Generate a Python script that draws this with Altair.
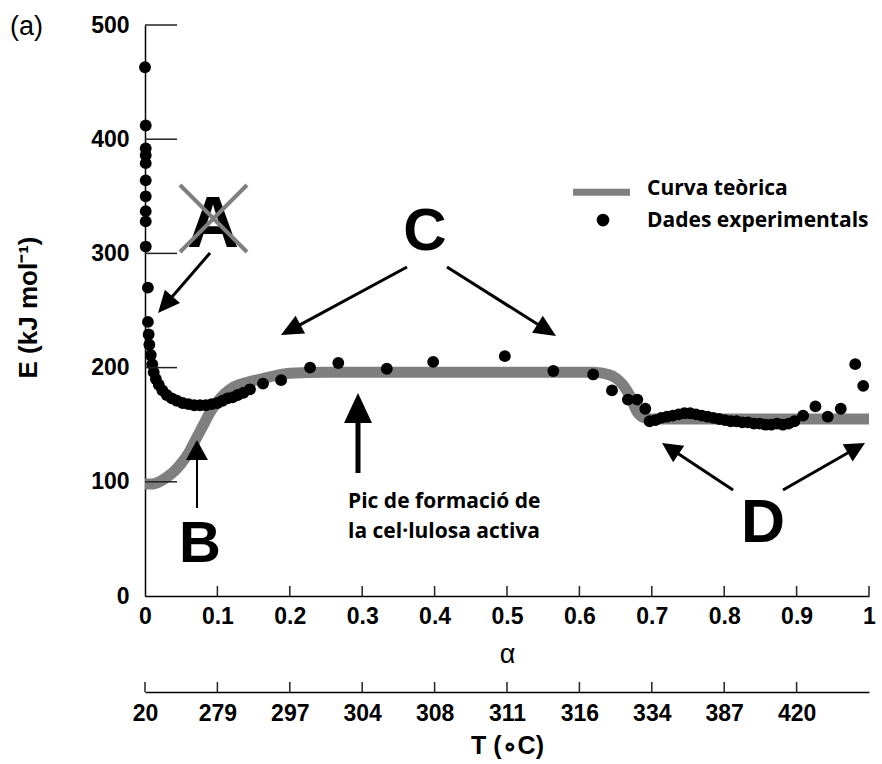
import json
import math

import altair as alt
import pandas as pd

# ---------------------------------------------------------------------------
# Data
# ---------------------------------------------------------------------------
# Theoretical activation-energy curve E(alpha)
CURVE_ALPHA = [0.00, 0.01, 0.02, 0.03, 0.04, 0.05, 0.06, 0.07, 0.08, 0.09,
               0.10, 0.11, 0.12, 0.13, 0.14, 0.16, 0.18, 0.20, 0.25, 0.30,
               0.40, 0.50, 0.60, 0.62, 0.64, 0.65, 0.66, 0.67, 0.68, 0.69,
               0.70, 0.72, 0.80, 0.90, 1.00]
CURVE_E = [98, 98, 100, 104, 109, 116, 125, 137, 149, 161,
           170, 177, 182, 185, 187, 190, 193, 195, 196, 196,
           196, 196, 196, 196, 194, 191, 185, 175, 161, 156,
           155, 155, 155, 155, 155]

# Experimental points
EXP_ALPHA = [0.000, 0.001, 0.001, 0.001, 0.001, 0.001, 0.001, 0.001, 0.001, 0.001,
             0.004, 0.004, 0.005, 0.006, 0.008, 0.010, 0.012, 0.015, 0.019, 0.024,
             0.030, 0.037, 0.044, 0.052, 0.060, 0.068, 0.076, 0.084, 0.092, 0.100,
             0.107, 0.114, 0.121, 0.128, 0.136, 0.145, 0.163, 0.188, 0.228, 0.267,
             0.334, 0.398, 0.497, 0.564, 0.619, 0.645, 0.667, 0.680, 0.691, 0.697,
             0.705, 0.713, 0.721, 0.729, 0.737, 0.745, 0.753, 0.761, 0.769, 0.777,
             0.785, 0.793, 0.801, 0.809, 0.817, 0.825, 0.833, 0.841, 0.849, 0.857,
             0.865, 0.873, 0.881, 0.889, 0.897, 0.909, 0.926, 0.943, 0.961, 0.981,
             0.992]
EXP_E = [463, 412, 392, 386, 379, 364, 350, 337, 328, 306,
         270, 240, 229, 220, 211, 203, 196, 190, 185, 180,
         176, 173, 171, 169, 168, 167, 167, 167, 168, 169,
         171, 173, 174, 176, 178, 181, 186, 189, 200, 204,
         199, 205, 210, 197, 194, 180, 172, 172, 164, 153,
         154, 156, 157, 158, 159, 160, 160, 159, 158, 157,
         156, 155, 154, 153, 153, 152, 152, 151, 151, 150,
         150, 151, 150, 151, 153, 158, 166, 157, 164, 203,
         184]

# Axis ticks and labels
Y_VALUES = [0, 100, 200, 300, 400, 500]
Y_INNER_TICKS = [100, 200, 300, 400, 500]
ALPHA_VALUES = [0, 0.1, 0.2, 0.3, 0.4, 0.5, 0.6, 0.7, 0.8, 0.9, 1]
ALPHA_INNER_TICKS = [0.1, 0.2, 0.3, 0.4, 0.5, 0.6, 0.7, 0.8, 0.9, 1]
T_POSITIONS = [0, 0.1, 0.2, 0.3, 0.4, 0.5, 0.6, 0.7, 0.8, 0.9]
T_LABELS = ["20", "279", "297", "304", "308", "311", "316", "334", "387", "420"]

# Annotation letters (alpha, E at baseline, font size)
LETTERS = ["A", "B", "C", "D"]
LETTER_ALPHA = [0.094, 0.076, 0.3867, 0.8536]
LETTER_E = [305.6, 29.8, 303.0, 47.3]
LETTER_SIZE = [72, 58, 60, 61]

# Arrows: tail (alpha, E), tip (alpha, E), shaft width, head length, head width
ARROWS = [
    (0.0898, 300.4, 0.0180, 247.8, 3.0, 22, 20),   # A
    (0.3619, 288.1, 0.1878, 228.5, 3.0, 22, 20),   # C left
    (0.4171, 288.1, 0.5677, 227.7, 3.0, 22, 20),   # C right
    (0.2942, 107.7, 0.2942, 177.8, 5.0, 30, 28),   # peak
    (0.0718, 77.1, 0.0718, 136.6, 2.0, 20, 22),    # B
    (0.8122, 92.8, 0.7141, 134.0, 3.0, 20, 20),    # D left
    (0.8812, 92.8, 0.9945, 134.0, 3.0, 20, 20),    # D right
]

# Cross drawn over the letter A
CROSS_A1 = [0.0483, 0.0483]
CROSS_E1 = [359.9, 301.2]
CROSS_A2 = [0.1409, 0.1409]
CROSS_E2 = [301.2, 359.9]

PEAK_TEXT = ["Pic de formació de", "la cel·lulosa activa"]
PEAK_ALPHA = [0.2804, 0.2804]
PEAK_E = [77.1, 50.8]

LEGEND_TEXT = ["Curva teòrica", "Dades experimentals"]
LEGEND_ALPHA = [0.6934, 0.6934]
LEGEND_E = [351.1, 323.1]

# ---------------------------------------------------------------------------
# Layout and style
# ---------------------------------------------------------------------------
W, H = 724, 571
PX_PER_A = W / 1.0
PX_PER_E = H / 500.0
GRAY = "#7f7f7f"
SANS = "Liberation Sans"
LABEL_FONT = "Open Sans"
TICK_FS = 23

xs = alt.Scale(domain=[0, 1], nice=False, zero=False)
ys = alt.Scale(domain=[0, 500], nice=False, zero=False)

AXIS_ALPHA = alt.Axis(
    orient="bottom", values=ALPHA_VALUES, format="~g", grid=False,
    ticks=False, tickSize=0, domainColor="black", domainWidth=1.5,
    labelFont=SANS, labelFontSize=TICK_FS, labelFontWeight="bold",
    labelColor="black", labelPadding=9, labelFlush=False,
    labelOverlap=False,
    title="α", titleFont=SANS, titleFontSize=27, titleFontWeight="normal",
    titleColor="black", titleX=W / 2, titleY=58, titleBaseline="middle",
    titleAlign="center")

AXIS_E = alt.Axis(
    orient="left", values=Y_VALUES, grid=False, ticks=False, tickSize=0,
    domainColor="black", domainWidth=1.5,
    labelFont=SANS, labelFontSize=TICK_FS, labelFontWeight="bold",
    labelColor="black", labelPadding=16, labelOverlap=False,
    title="E (kJ mol⁻¹)", titleFont=SANS, titleFontSize=26,
    titleFontWeight="bold", titleColor="black", titleAngle=270,
    titleX=-117, titleY=282, titleBaseline="middle", titleAlign="center")


def X(field):
    return alt.X(f"{field}:Q", scale=xs, axis=AXIS_ALPHA)


def Y(field):
    return alt.Y(f"{field}:Q", scale=ys, axis=AXIS_E)


curve_df = pd.DataFrame({"a": CURVE_ALPHA, "E": CURVE_E})
exp_df = pd.DataFrame({"a": EXP_ALPHA, "E": EXP_E})

# Arrow shafts and heads
shaft_rows, head_rows = [], []
for ta, te, pa, pe, sw, hl, hw in ARROWS:
    dx = (pa - ta) * PX_PER_A
    dy = (pe - te) * PX_PER_E
    length = math.hypot(dx, dy)
    ang = math.degrees(math.atan2(dx, dy)) % 360
    f = 1 - 0.5 * hl / length
    shaft_rows.append({"a": ta, "E": te,
                       "a2": ta + (pa - ta) * f, "E2": te + (pe - te) * f,
                       "w": sw})
    half = hw / (2.0 * hl)
    head_rows.append({"a": pa, "E": pe, "ang": ang,
                      "shape": f"M0,0L{half:.3f},1L{-half:.3f},1Z",
                      "sz": (2 * hl) ** 2})
shaft_df = pd.DataFrame(shaft_rows)
head_df = pd.DataFrame(head_rows)

# ---------------------------------------------------------------------------
# Layers
# ---------------------------------------------------------------------------
curve = alt.Chart(curve_df).mark_line(
    color=GRAY, strokeWidth=11, interpolate="monotone"
).encode(x=X("a"), y=Y("E"))

points = alt.Chart(exp_df).mark_circle(size=140, color="black", opacity=1).encode(
    x=X("a"), y=Y("E"))

# Inward tick marks on both axes
y_ticks = alt.Chart(pd.DataFrame({"E": Y_INNER_TICKS})).mark_rule(
    color="#222222", strokeWidth=1.5
).encode(y=Y("E"), x=alt.value(0), x2=alt.value(32))

x_ticks = alt.Chart(pd.DataFrame({"a": ALPHA_INNER_TICKS})).mark_rule(
    color="#222222", strokeWidth=1.5
).encode(x=X("a"), y=alt.value(H - 10), y2=alt.value(H))

# Letters A, B, C, D
letters = alt.Chart(pd.DataFrame({
    "t": LETTERS, "a": LETTER_ALPHA, "E": LETTER_E, "fs": LETTER_SIZE
})).mark_text(font=SANS, fontWeight="bold", align="center",
              baseline="alphabetic", color="black").encode(
    x=X("a"), y=Y("E"), text="t:N", size=alt.Size("fs:Q", scale=None))

cross = alt.Chart(pd.DataFrame({
    "a": CROSS_A1, "E": CROSS_E1, "a2": CROSS_A2, "E2": CROSS_E2
})).mark_rule(color=GRAY, strokeWidth=4).encode(
    x=X("a"), y=Y("E"), x2="a2:Q", y2="E2:Q")

shafts = alt.Chart(shaft_df).mark_rule(color="black").encode(
    x=X("a"), y=Y("E"), x2="a2:Q", y2="E2:Q",
    strokeWidth=alt.StrokeWidth("w:Q", scale=None))

heads = alt.Chart(head_df).mark_point(
    filled=True, color="black", opacity=1, strokeWidth=0
).encode(
    x=X("a"), y=Y("E"),
    shape=alt.Shape("shape:N", scale=None),
    angle=alt.Angle("ang:Q", scale=None),
    size=alt.Size("sz:Q", scale=None))

peak_text = alt.Chart(pd.DataFrame({
    "t": PEAK_TEXT, "a": PEAK_ALPHA, "E": PEAK_E
})).mark_text(font=LABEL_FONT, fontWeight="bold", fontSize=21, align="left",
              baseline="alphabetic", color="black").encode(
    x=X("a"), y=Y("E"), text="t:N")

# Legend
legend_bar = alt.Chart(pd.DataFrame({"a": [0.5912], "a2": [0.6699], "E": [353.5]})).mark_rule(
    color=GRAY, strokeWidth=7).encode(x=X("a"), x2="a2:Q", y=Y("E"))
legend_dot = alt.Chart(pd.DataFrame({"a": [0.6326], "E": [329.2]})).mark_circle(
    size=160, color="black", opacity=1).encode(x=X("a"), y=Y("E"))
legend_text = alt.Chart(pd.DataFrame({
    "t": LEGEND_TEXT, "a": LEGEND_ALPHA, "E": LEGEND_E
})).mark_text(font=LABEL_FONT, fontWeight="bold", fontSize=21, align="left",
              baseline="alphabetic", color="black").encode(
    x=X("a"), y=Y("E"), text="t:N")

panel_tag = alt.Chart(pd.DataFrame({"t": ["(a)"], "a": [-0.1865], "E": [491.2]})).mark_text(
    font=SANS, fontSize=27, align="left", baseline="alphabetic", color="black"
).encode(x=X("a"), y=Y("E"), text="t:N")

main = alt.layer(
    curve, points, y_ticks, x_ticks, letters, cross, shafts, heads,
    peak_text, legend_bar, legend_dot, legend_text, panel_tag,
)

# Secondary temperature axis below the alpha axis
t_expr = json.dumps(T_LABELS) + "[round(datum.value * 10)]"
t_axis = alt.Chart(pd.DataFrame({"a": T_POSITIONS})).mark_rule(
    color="#222222", strokeWidth=1.5
).encode(
    x=alt.X("a:Q", scale=xs, axis=alt.Axis(
        orient="bottom", offset=96, values=T_POSITIONS, labelExpr=t_expr,
        grid=False, ticks=False, tickSize=0, domainColor="black",
        domainWidth=1.5, labelFont=SANS, labelFontSize=TICK_FS,
        labelFontWeight="bold", labelColor="black", labelPadding=10,
        labelFlush=False, labelOverlap=False,
        title="T (∘C)", titleFont=SANS, titleFontSize=25,
        titleFontWeight="bold", titleColor="black", titleX=W / 2, titleY=53,
        titleBaseline="middle", titleAlign="center")),
    y=alt.value(H + 86), y2=alt.value(H + 96),
)

chart = alt.layer(main, t_axis).resolve_scale(x="independent").properties(
    width=W, height=H,
    autosize=alt.AutoSizeParams(type="none"),
    padding={"left": 145, "top": 25, "right": 13, "bottom": 168},
    background="white",
).configure_view(stroke=None)

chart.save("out.html", embed_options={"renderer": "svg", "actions": False})
